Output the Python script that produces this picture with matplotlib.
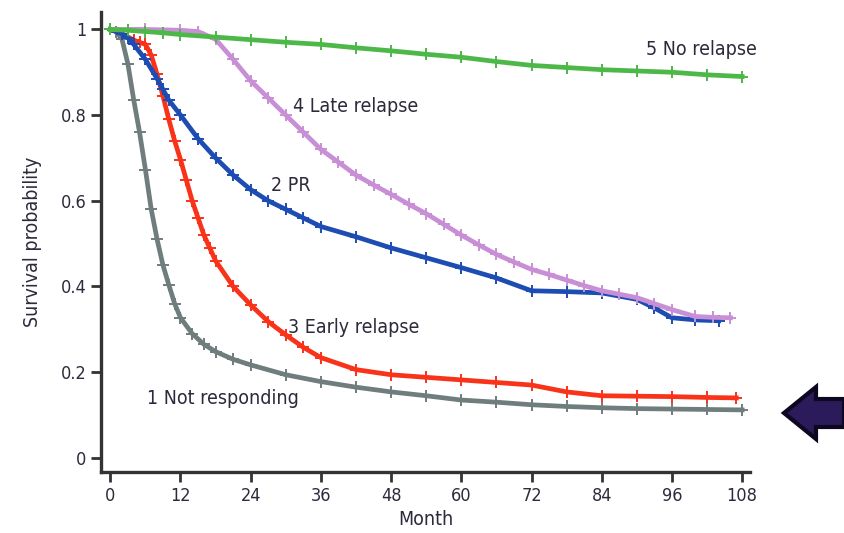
import matplotlib.pyplot as plt
from matplotlib.patches import FancyArrow

# months and survival values
m_grey = [0, 1, 2, 3, 4, 5, 6, 7, 8, 9, 10, 11, 12, 14, 16, 18, 21, 24, 30, 36, 42, 48, 54, 60, 66, 72, 78, 84, 90, 96, 102, 108]
s_grey = [1.0, 0.995, 0.977, 0.92, 0.836, 0.76, 0.673, 0.58, 0.51, 0.45, 0.404, 0.36, 0.327, 0.29, 0.265, 0.248, 0.23, 0.217, 0.194, 0.178, 0.165, 0.154, 0.145, 0.135, 0.13, 0.124, 0.12, 0.117, 0.115, 0.114, 0.113, 0.112]

m_red = [0, 2, 4, 5, 6, 7, 8, 9, 10, 11, 12, 13, 14, 15, 16, 17, 18, 21, 24, 27, 30, 33, 36, 42, 48, 54, 60, 66, 72, 78, 84, 90, 96, 102, 107]
s_red = [1.0, 0.99, 0.975, 0.97, 0.965, 0.94, 0.895, 0.845, 0.79, 0.74, 0.696, 0.648, 0.6, 0.56, 0.52, 0.49, 0.46, 0.40, 0.357, 0.318, 0.287, 0.258, 0.234, 0.206, 0.194, 0.188, 0.182, 0.176, 0.17, 0.154, 0.145, 0.144, 0.143, 0.141, 0.14]

m_blue = [0, 2, 3, 4, 6, 8, 9, 10, 12, 15, 18, 21, 24, 27, 30, 33, 36, 42, 48, 54, 60, 66, 72, 78, 84, 90, 93, 96, 100, 104]
s_blue = [1.0, 0.99, 0.98, 0.965, 0.93, 0.885, 0.86, 0.835, 0.8, 0.745, 0.7, 0.66, 0.626, 0.6, 0.58, 0.56, 0.54, 0.516, 0.49, 0.467, 0.444, 0.42, 0.39, 0.388, 0.385, 0.37, 0.35, 0.327, 0.322, 0.32]

m_pink = [0, 6, 12, 15, 18, 21, 24, 27, 30, 33, 36, 39, 42, 45, 48, 51, 54, 57, 60, 63, 66, 69, 72, 75, 78, 81, 84, 87, 90, 93, 96, 100, 103, 106]
s_pink = [1.0, 1.0, 0.998, 0.995, 0.977, 0.93, 0.88, 0.84, 0.8, 0.76, 0.72, 0.69, 0.66, 0.637, 0.615, 0.592, 0.57, 0.545, 0.52, 0.497, 0.475, 0.457, 0.44, 0.428, 0.415, 0.402, 0.39, 0.382, 0.374, 0.36, 0.346, 0.33, 0.328, 0.327]

m_green = [0, 3, 6, 9, 12, 18, 24, 30, 36, 42, 48, 54, 60, 66, 72, 78, 84, 90, 96, 102, 108]
s_green = [1.0, 0.998, 0.995, 0.992, 0.988, 0.982, 0.976, 0.97, 0.965, 0.957, 0.95, 0.942, 0.935, 0.925, 0.916, 0.911, 0.906, 0.903, 0.9, 0.894, 0.89]

labels = ["1 Not responding", "2 PR", "3 Early relapse", "4 Late relapse", "5 No relapse"]
label_pos = [(6.3, 0.138), (27.4, 0.636), (30.4, 0.304), (31.3, 0.82), (91.5, 0.953)]

xticks = [0, 12, 24, 36, 48, 60, 72, 84, 96, 108]
yticks = [0, 0.2, 0.4, 0.6, 0.8, 1]
ytick_labels = ["0", "0.2", "0.4", "0.6", "0.8", "1"]

curves = [
    (m_grey, s_grey, '#6f7d7d'),
    (m_red, s_red, '#f9321a'),
    (m_blue, s_blue, '#1d4cb3'),
    (m_pink, s_pink, '#c98fd6'),
    (m_green, s_green, '#4db848'),
]

text_col = '#2b2b3b'
plt.rcParams['font.family'] = ['DejaVu Sans']
plt.rcParams['font.stretch'] = 'condensed'

fig = plt.figure(figsize=(8.44, 5.33), dpi=100)
ax = fig.add_axes([0.12, 0.1144, 0.769, 0.8626])

for m, s, col in curves:
    ax.plot(m, s, color=col, lw=3.4, marker='+', markersize=9, mew=1.4, zorder=2)

for lab, (x, y) in zip(labels, label_pos):
    ax.text(x, y, lab, fontsize=14, color=text_col, va='center', ha='left')

ax.set_xlim(-1.54, 109.4)
ax.set_ylim(-0.033, 1.04)
ax.set_xticks(xticks)
ax.set_yticks(yticks)
ax.set_yticklabels(ytick_labels)
ax.tick_params(direction='out', length=7, width=2, colors='#333333', labelsize=13, labelcolor=text_col)
for sp in ['top', 'right']:
    ax.spines[sp].set_visible(False)
for sp in ['left', 'bottom']:
    ax.spines[sp].set_linewidth(2.4)
    ax.spines[sp].set_color('#333333')

ax.set_xlabel('Month', fontsize=14, color=text_col, labelpad=4)
ax.set_ylabel('Survival probability', fontsize=14, color=text_col, labelpad=14)

# pointer arrow at the right edge, in figure coordinates
arrow = FancyArrow(1.0, 1 - 413 / 533, -60 / 844, 0, width=28 / 533,
                   head_width=52 / 533, head_length=32 / 844,
                   length_includes_head=True, transform=fig.transFigure,
                   facecolor='#2b1b5a', edgecolor='#0d0820', lw=3, clip_on=False)
fig.patches.append(arrow)

fig.savefig('out.png', dpi=100)
